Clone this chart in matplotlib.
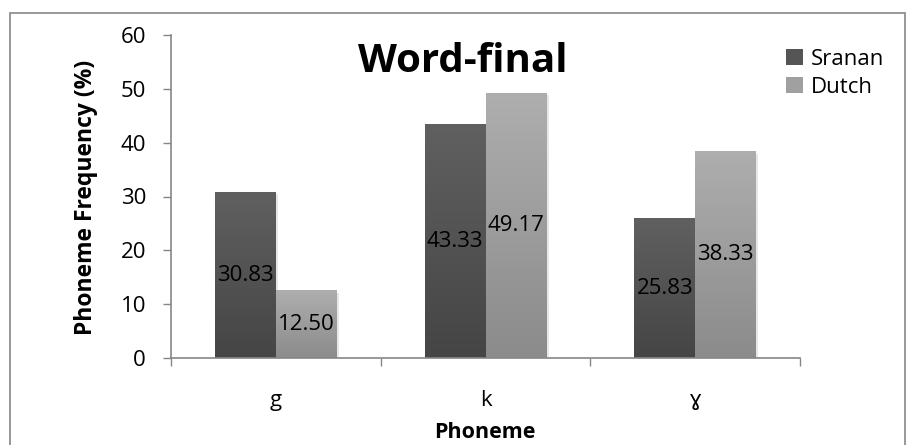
import numpy as np
import matplotlib
matplotlib.use('Agg')
from matplotlib import pyplot as plt
from matplotlib.patches import Rectangle, Patch
from matplotlib.colors import LinearSegmentedColormap

phonemes = ['g', 'k', 'ɣ']
sranan = [30.83, 43.33, 25.83]
dutch = [12.50, 49.17, 38.33]
series_names = ['Sranan', 'Dutch']

plt.rcParams['font.family'] = ['Open Sans', 'DejaVu Sans']

W, H = 907, 445
fig = plt.figure(figsize=(W / 100, H / 100), dpi=100, facecolor='white')

def px(x0, y0, x1, y1):
    # pixel box (top-left origin) -> figure fraction [left, bottom, width, height]
    return [x0 / W, 1 - y1 / H, (x1 - x0) / W, (y1 - y0) / H]

ax = fig.add_axes(px(171, 35, 800, 358))

axis_grey = '#868686'
bar_w = 0.29
x = np.arange(len(phonemes))

# vertical gradient per bar, lighter at the top
shade_dark = LinearSegmentedColormap.from_list('sr', ['#454545', '#606060'])
shade_light = LinearSegmentedColormap.from_list('du', ['#8b8b8b', '#aeaeae'])
grad = np.linspace(0, 1, 256).reshape(-1, 1)

def gradient_bars(xs, vals, cmap):
    bars = ax.bar(xs, vals, width=bar_w, align='edge', color='none',
                  edgecolor='none', zorder=2)
    for b in bars:
        x0, w, h = b.get_x(), b.get_width(), b.get_height()
        # soft shadow to the right
        ax.add_patch(Rectangle((x0 + 0.012, 0), w, h - 0.4, color='#d8d8d8',
                               alpha=0.6, zorder=1, lw=0))
        ax.imshow(grad, cmap=cmap, origin='lower', aspect='auto',
                  extent=[x0, x0 + w, 0, h], zorder=2)
    return bars

gradient_bars(x - bar_w, sranan, shade_dark)
gradient_bars(x, dutch, shade_light)

for xi, v in zip(x - bar_w / 2, sranan):
    ax.text(xi, v / 2, f'{v:.2f}', ha='center', va='center', fontsize=16,
            color='black', zorder=3)
for xi, v in zip(x + bar_w / 2, dutch):
    ax.text(xi, v / 2, f'{v:.2f}', ha='center', va='center', fontsize=16,
            color='black', zorder=3)

ax.set_xlim(-0.5, 2.5)
ax.set_ylim(0, 60)
ax.set_yticks(range(0, 61, 10))
ax.tick_params(axis='y', length=6, width=1, color=axis_grey, pad=12,
               labelsize=16)

# category boundaries get the ticks, names sit in between
ax.set_xticks([-0.5, 0.5, 1.5, 2.5])
ax.set_xticklabels([])
ax.set_xticks(x, minor=True)
ax.set_xticklabels(phonemes, minor=True)
ax.tick_params(axis='x', which='major', length=6, width=1, color=axis_grey)
ax.tick_params(axis='x', which='minor', length=0, pad=23, labelsize=16)

for side in ['top', 'right']:
    ax.spines[side].set_visible(False)
for side in ['left', 'bottom']:
    ax.spines[side].set_color(axis_grey)
    ax.spines[side].set_linewidth(1.2)
ax.set_facecolor('none')

fig.text(463 / W, 1 - 62 / H, 'Word-final', ha='center', va='center',
         fontsize=29, fontweight='bold')
fig.text(86 / W, 1 - 197 / H, 'Phoneme Frequency (%)', ha='center',
         va='center', rotation=90, fontsize=16.5, fontweight='bold')
fig.text(485 / W, 1 - 433 / H, 'Phoneme', ha='center', va='center',
         fontsize=15.5, fontweight='bold')

handles = [Patch(facecolor='#555555', edgecolor='none'),
           Patch(facecolor='#a0a0a0', edgecolor='none')]
fig.legend(handles, series_names, loc='upper left',
           bbox_to_anchor=(775 / W, 1 - 38 / H), frameon=False, fontsize=16,
           handlelength=0.75, handleheight=0.75, handletextpad=0.35,
           labelspacing=0.3, borderpad=0)

# chart frame
fig.add_artist(Rectangle((10 / W, -0.05), 895 / W, 1 - 13 / H + 0.05,
                         transform=fig.transFigure, fill=False,
                         edgecolor=axis_grey, lw=1.2))

fig.savefig('out.png', dpi=100)
